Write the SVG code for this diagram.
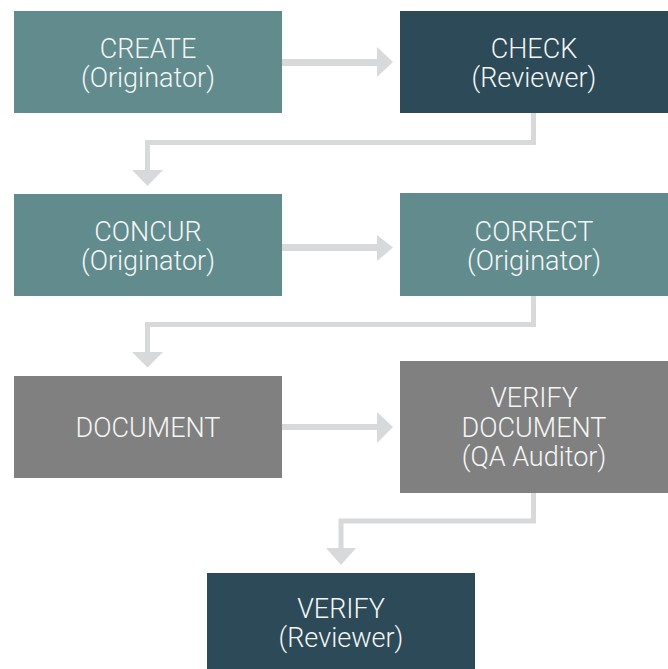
<svg xmlns="http://www.w3.org/2000/svg" width="668" height="669" viewBox="0 0 668 669">
<style>
.teal{fill:#618B8D}
.dark{fill:#2C4A57}
.gray{fill:#808080}
.conn{fill:#D8D9DB}
text{font-family:Roboto,"Liberation Sans",Arial,sans-serif;font-weight:300;font-size:27px;fill:#F4F6F6;text-anchor:middle}
</style>
<rect width="668" height="669" fill="#FFFFFF"/>
<g id="connectors">
<path class="conn" d="M282,59 H377 V47 L393,62 L377,77 V66 H282 Z"/>
<path class="conn" d="M282,244 H377 V235 L393,247.5 L377,261 V251 H282 Z"/>
<path class="conn" d="M282,424 H377 V412 L393,427 L377,443 V430 H282 Z"/>
<path class="conn" d="M531,113 H536 V145 H150 V170 H163 L147.5,186 L132,170 H145 V140 H531 Z"/>
<path class="conn" d="M531,296 H536 V327 H150 V352 H163 L147.5,367.5 L132,352 H145 V322 H531 Z"/>
<path class="conn" d="M531,493 H536 V523.5 H343.5 V548 H356 L341,565 L326,548 H338.5 V518.5 H531 Z"/>
</g>
<g id="create">
<rect class="teal" x="14" y="11" width="268" height="102"/>
<text x="148" y="57.5">CREATE</text>
<text x="148" y="87">(Originator)</text>
</g>
<g id="check">
<rect class="dark" x="400" y="11" width="268" height="102"/>
<text x="534" y="57.5">CHECK</text>
<text x="534" y="87">(Reviewer)</text>
</g>
<g id="concur">
<rect class="teal" x="14" y="194" width="268" height="102"/>
<text x="148" y="240.5">CONCUR</text>
<text x="148" y="270">(Originator)</text>
</g>
<g id="correct">
<rect class="teal" x="400" y="193" width="268" height="103"/>
<text x="534" y="240.5">CORRECT</text>
<text x="534" y="270">(Originator)</text>
</g>
<g id="document">
<rect class="gray" x="14" y="376" width="268" height="102"/>
<text x="148" y="436.5">DOCUMENT</text>
</g>
<g id="verify-document">
<rect class="gray" x="400" y="361" width="268" height="132"/>
<text x="534" y="407">VERIFY</text>
<text x="534" y="436.5">DOCUMENT</text>
<text x="534" y="466">(QA Auditor)</text>
</g>
<g id="verify">
<rect class="dark" x="207" y="573" width="268" height="96"/>
<text x="341" y="617.5">VERIFY</text>
<text x="341" y="647">(Reviewer)</text>
</g>
</svg>
